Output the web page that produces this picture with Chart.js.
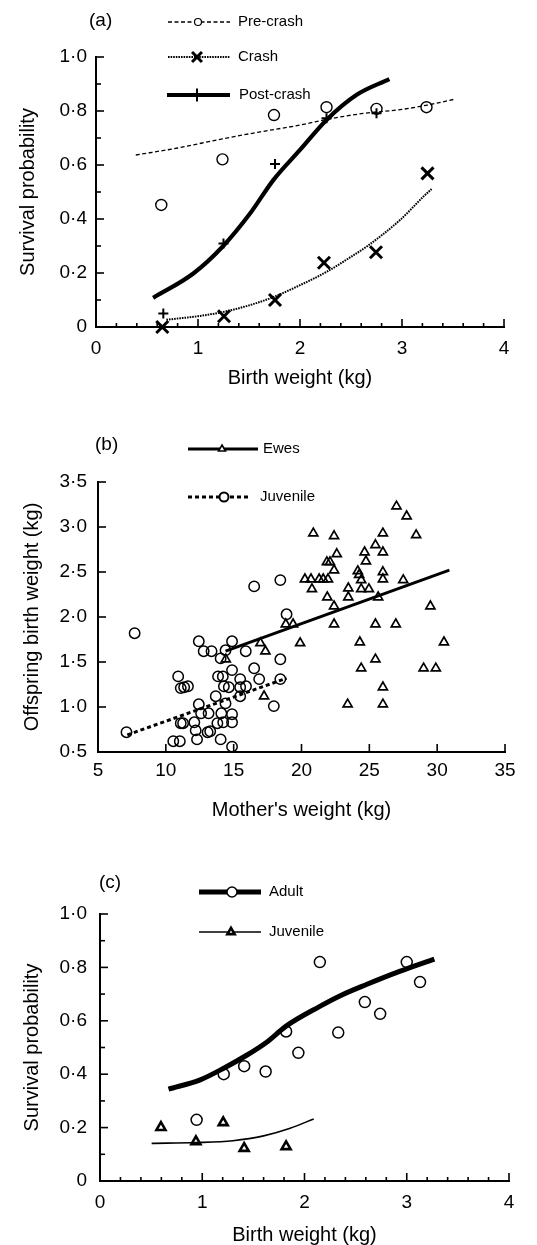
<!DOCTYPE html>
<html lang="en">
<head>
<meta charset="UTF-8">
<title>Survival probability and birth weight</title>
<style>
  body { margin:0; padding:0; background:#fff; }
  .panel { position:absolute; left:0; width:537px; }
  canvas { display:block; }
</style>
</head>
<body>
<div class="panel" style="top:0"><canvas id="chart-a" width="537" height="410"></canvas></div>
<div class="panel" style="top:410px"><canvas id="chart-b" width="537" height="420"></canvas></div>
<div class="panel" style="top:830px"><canvas id="chart-c" width="537" height="415"></canvas></div>

<script src="https://cdn.jsdelivr.net/npm/chart.js"></script>
<script>
// ---- panel (a): survival vs birth weight, three periods ----
const preX   = [0.64, 1.24, 1.745, 2.26, 2.75, 3.24];
const preY   = [0.452, 0.621, 0.785, 0.814, 0.808, 0.814];
const crashX = [0.65, 1.255, 1.755, 2.235, 2.745, 3.25];
const crashY = [0, 0.04, 0.10, 0.238, 0.277, 0.569];
const postX  = [0.66, 1.25, 1.755, 2.26, 2.75];
const postY  = [0.05, 0.309, 0.604, 0.773, 0.792];

const preFitX   = [0.39, 0.8, 1.24, 1.6, 2.0, 2.25, 2.6, 3.0, 3.25, 3.52];
const preFitY   = [0.637, 0.663, 0.697, 0.722, 0.748, 0.768, 0.79, 0.806, 0.822, 0.844];
const crashFitX = [0.69, 1.0, 1.25, 1.5, 1.74, 2.0, 2.26, 2.5, 2.65, 2.98, 3.21, 3.29];
const crashFitY = [0.027, 0.04, 0.056, 0.08, 0.111, 0.155, 0.204, 0.26, 0.297, 0.396, 0.483, 0.511];
const postFitX  = [0.56, 0.954, 1.24, 1.51, 1.74, 2.0, 2.26, 2.556, 2.876];
const postFitY  = [0.108, 0.198, 0.297, 0.42, 0.545, 0.656, 0.767, 0.86, 0.918];

// ---- panel (b): offspring birth weight vs mother's weight ----
const juvMumX = [7.1, 7.7, 10.55, 11.03, 10.91, 11.1, 11.35, 11.63, 11.1, 11.27, 12.1, 12.2, 12.3,
  12.43, 12.43, 12.6, 12.79, 13.15, 13.08, 13.27, 13.37, 13.68, 13.85, 13.8, 14.04, 14.09, 14.2,
  14.28, 14.23, 14.04, 14.4, 14.4, 14.64, 14.88, 14.88, 14.88, 14.88, 14.88, 15.48, 15.48, 15.48,
  15.91, 15.89, 16.51, 16.51, 16.88, 17.96, 18.44, 18.44, 18.44, 18.9];
const juvLambY = [0.72, 1.82, 0.62, 0.62, 1.34, 1.21, 1.22, 1.23, 0.82, 0.82, 0.83, 0.74, 0.64,
  1.73, 1.03, 0.93, 1.62, 0.93, 0.72, 0.73, 1.62, 1.12, 1.34, 0.82, 1.54, 0.93, 1.34,
  1.23, 0.83, 0.64, 1.63, 1.04, 1.22, 1.41, 1.73, 0.92, 0.83, 0.56, 1.31, 1.22, 1.12,
  1.23, 1.62, 1.43, 2.34, 1.31, 1.01, 2.41, 1.53, 1.31, 2.03];
const eweMumX = [27.0, 27.75, 20.87, 22.4, 26.0, 28.45, 25.45, 22.6, 24.65, 26.0, 21.87, 22.1, 24.75,
  24.15, 24.25, 22.4, 26.0, 20.25, 20.7, 21.3, 21.6, 21.95, 26.0, 27.5, 24.4, 20.77, 23.45, 24.4,
  24.97, 21.9, 23.45, 25.65, 22.4, 29.5, 18.84, 19.38, 22.4, 25.45, 26.95, 19.9, 16.97, 17.34,
  24.3, 30.5, 25.45, 24.4, 29.0, 29.9, 26.0, 17.24, 23.4, 26.0, 14.42];
const eweLambY = [3.23, 3.12, 2.93, 2.9, 2.93, 2.91, 2.8, 2.7, 2.72, 2.72, 2.61, 2.61, 2.62,
  2.51, 2.47, 2.52, 2.5, 2.42, 2.42, 2.42, 2.42, 2.42, 2.42, 2.41, 2.41, 2.31, 2.32, 2.31,
  2.31, 2.22, 2.22, 2.22, 2.12, 2.12, 1.92, 1.92, 1.92, 1.92, 1.92, 1.71, 1.71, 1.62,
  1.72, 1.72, 1.53, 1.43, 1.43, 1.43, 1.22, 1.12, 1.03, 1.03, 1.53];
const eweFitX = [14.4, 30.9];
const eweFitY = [1.62, 2.52];
const juvFitX = [7.16, 18.9];
const juvFitY = [0.69, 1.32];

// ---- panel (c): survival vs birth weight, adults and juveniles ----
const adultX = [0.945, 1.21, 1.41, 1.62, 1.82, 1.94, 2.15, 2.33, 2.59, 2.74, 3.0, 3.13];
const adultY = [0.229, 0.40, 0.43, 0.41, 0.56, 0.48, 0.82, 0.556, 0.67, 0.626, 0.82, 0.745];
const adultFitX = [0.67, 0.98, 1.21, 1.43, 1.63, 1.82, 2.15, 2.35, 2.6, 2.93, 3.27];
const adultFitY = [0.344, 0.379, 0.4225, 0.47, 0.52, 0.58, 0.654, 0.694, 0.735, 0.785, 0.831];
const juvCX = [0.596, 0.938, 1.205, 1.41, 1.82];
const juvCY = [0.201, 0.1475, 0.219, 0.1225, 0.129];
const juvCFitX = [0.505, 0.945, 1.3, 1.6, 1.86, 2.09];
const juvCFitY = [0.141, 0.144, 0.151, 0.169, 0.1975, 0.2325];

const FONT = '"Liberation Sans", Arial, Helvetica, sans-serif';
Chart.defaults.font.family = FONT;
Chart.defaults.color = '#000';

const pts = (xs, ys) => xs.map((x, i) => ({ x, y: ys[i] }));
const dot = v => (Math.abs(v) < 1e-9 ? '0' : v.toFixed(1).replace('.', '\u00b7'));
const int = v => String(Math.round(v));

function markerPath(ctx, style, x, y, r) {
  ctx.beginPath();
  if (style === 'circle') {
    ctx.arc(x, y, r, 0, Math.PI * 2);
  } else if (style === 'triangle') {
    for (let k = 0; k < 3; k++) {
      const a = k * 2 * Math.PI / 3;
      const px = x + Math.sin(a) * r, py = y - Math.cos(a) * r;
      k ? ctx.lineTo(px, py) : ctx.moveTo(px, py);
    }
    ctx.closePath();
  } else if (style === 'cross') {
    ctx.moveTo(x - r, y); ctx.lineTo(x + r, y);
    ctx.moveTo(x, y - r); ctx.lineTo(x, y + r);
  } else if (style === 'crossRot') {
    const d = r * Math.SQRT1_2;
    ctx.moveTo(x - d, y - d); ctx.lineTo(x + d, y + d);
    ctx.moveTo(x - d, y + d); ctx.lineTo(x + d, y - d);
  }
}

// inward tick marks on both axes
const innerTicks = {
  id: 'innerTicks',
  afterDraw(chart, args, o) {
    if (!o || !o.x) return;
    const ctx = chart.ctx;
    ctx.save();
    ctx.strokeStyle = '#000';
    ctx.lineWidth = 1.6;
    ['x', 'y'].forEach(id => {
      const s = chart.scales[id], t = o[id];
      const n = Math.round((s.max - s.min) / t.minor);
      for (let i = 1; i <= n; i++) {
        const v = s.min + i * t.minor;
        const q = v / t.major;
        const len = Math.abs(q - Math.round(q)) < 1e-6 ? t.majorLen : t.minorLen;
        const p = s.getPixelForValue(v);
        ctx.beginPath();
        if (id === 'x') {
          const b = chart.chartArea.bottom;
          ctx.moveTo(p, b); ctx.lineTo(p, b - len);
        } else {
          const l = chart.chartArea.left;
          ctx.moveTo(l, p); ctx.lineTo(l + len, p);
        }
        ctx.stroke();
      }
    });
    ctx.restore();
  }
};

// panel tag and line+marker legend
const panelLegend = {
  id: 'panelLegend',
  afterDraw(chart, args, o) {
    if (!o || !o.items) return;
    const ctx = chart.ctx;
    ctx.save();
    ctx.fillStyle = '#000';
    ctx.textBaseline = 'middle';
    ctx.font = '19px ' + FONT;
    ctx.fillText(o.tag, o.tagX, o.tagY);
    ctx.font = '15px ' + FONT;
    o.items.forEach(it => {
      const ln = chart.data.datasets[it.line];
      const pt = chart.data.datasets[it.point];
      ctx.strokeStyle = '#000';
      ctx.lineWidth = ln.borderWidth;
      ctx.setLineDash(ln.borderDash || []);
      ctx.beginPath();
      ctx.moveTo(it.x1, it.y); ctx.lineTo(it.x2, it.y);
      ctx.stroke();
      ctx.setLineDash([]);
      ctx.lineWidth = it.lw || pt.borderWidth;
      markerPath(ctx, pt.pointStyle, it.mx, it.y, it.r);
      if (pt.pointStyle === 'circle' || pt.pointStyle === 'triangle') {
        ctx.fillStyle = '#fff'; ctx.fill(); ctx.fillStyle = '#000';
      }
      ctx.stroke();
      ctx.fillText(ln.label, it.tx, it.y);
    });
    ctx.restore();
  }
};
Chart.register(innerTicks, panelLegend);

function fitLine(label, xs, ys, width, dash) {
  return { type: 'line', label, data: pts(xs, ys), borderColor: '#000', borderWidth: width,
    borderDash: dash, pointRadius: 0, fill: false, cubicInterpolationMode: 'monotone',
    borderCapStyle: 'butt', clip: false };
}
function marks(label, xs, ys, style, r, bw) {
  return { type: 'scatter', label, data: pts(xs, ys), pointStyle: style, pointRadius: r,
    borderColor: '#000', backgroundColor: 'rgba(0,0,0,0)', borderWidth: bw,
    pointBorderWidth: bw, clip: false, showLine: false };
}
function axis(cfg) {
  return {
    type: 'linear', min: cfg.min, max: cfg.max,
    ticks: { stepSize: cfg.step, callback: cfg.fmt, font: { size: 19 }, color: '#000',
      padding: cfg.pad, autoSkip: false, maxRotation: 0 },
    grid: { display: false, drawTicks: false },
    border: { display: true, color: '#000', width: 2 },
    title: { display: true, text: cfg.title, color: '#000', font: { size: 20, lineHeight: 1 },
      padding: cfg.titlePad },
    afterFit: cfg.fit
  };
}
function baseOptions(pad, xAxis, yAxis, ticksCfg, legendCfg) {
  return {
    responsive: false, animation: false, events: [],
    layout: { padding: pad },
    scales: { x: xAxis, y: yAxis },
    plugins: { legend: { display: false }, tooltip: { enabled: false },
      innerTicks: ticksCfg, panelLegend: legendCfg }
  };
}

// (a)
new Chart(document.getElementById('chart-a'), {
  data: { datasets: [
    fitLine('Pre-crash', preFitX, preFitY, 1.3, [4, 2.5]),
    fitLine('Crash', crashFitX, crashFitY, 2, [1.6, 1]),
    fitLine('Post-crash', postFitX, postFitY, 4.2, []),
    marks('Pre-crash', preX, preY, 'circle', 5.5, 1.4),
    marks('Crash', crashX, crashY, 'crossRot', 8.5, 3),
    marks('Post-crash', postX, postY, 'cross', 5, 2)
  ] },
  options: baseOptions({ left: 0, right: 33, top: 57, bottom: 0 },
    axis({ min: 0, max: 4, step: 1, fmt: int, pad: 10, title: 'Birth weight (kg)',
      titlePad: { top: 0, bottom: 22 }, fit: s => { s.height = 83; } }),
    axis({ min: 0, max: 1, step: 0.2, fmt: dot, pad: 9, title: 'Survival probability',
      titlePad: { top: 18, bottom: 0 }, fit: s => { s.width = 96; } }),
    { x: { minor: 0.2, major: 1, minorLen: 4, majorLen: 8 },
      y: { minor: 0.1, major: 0.2, minorLen: 5, majorLen: 8 } },
    { tag: '(a)', tagX: 89, tagY: 21, items: [
      { line: 0, point: 3, x1: 168, x2: 230, mx: 198, y: 22, r: 3.5, lw: 1.2, tx: 238 },
      { line: 1, point: 4, x1: 168, x2: 230, mx: 197, y: 57, r: 7, lw: 3, tx: 238 },
      { line: 2, point: 5, x1: 167, x2: 230, mx: 197, y: 95, r: 6.5, lw: 2, tx: 239 }
    ] })
});

// (b)
new Chart(document.getElementById('chart-b'), {
  data: { datasets: [
    fitLine('Ewes', eweFitX, eweFitY, 3, []),
    fitLine('Juvenile', juvFitX, juvFitY, 3, [4, 3]),
    marks('Ewes', eweMumX, eweLambY, 'triangle', 5.2, 1.7),
    marks('Juvenile', juvMumX, juvLambY, 'circle', 5.2, 1.5)
  ] },
  options: baseOptions({ left: 0, right: 32, top: 72, bottom: 0 },
    axis({ min: 5, max: 35, step: 5, fmt: int, pad: 7, title: "Mother's weight (kg)",
      titlePad: { top: 0, bottom: 10 }, fit: s => { s.height = 78; } }),
    axis({ min: 0.5, max: 3.5, step: 0.5, fmt: dot, pad: 11, title: 'Offspring birth weight (kg)',
      titlePad: { top: 22, bottom: 0 }, fit: s => { s.width = 98; } }),
    { x: { minor: 5, major: 5, minorLen: 8, majorLen: 8 },
      y: { minor: 0.5, major: 0.5, minorLen: 8, majorLen: 8 } },
    { tag: '(b)', tagX: 95, tagY: 35, items: [
      { line: 0, point: 2, x1: 188, x2: 258, mx: 222, y: 39, r: 4, lw: 1.6, tx: 263 },
      { line: 1, point: 3, x1: 188, x2: 250, mx: 224, y: 87, r: 4.5, lw: 2, tx: 260 }
    ] })
});

// (c)
new Chart(document.getElementById('chart-c'), {
  data: { datasets: [
    fitLine('Adult', adultFitX, adultFitY, 5, []),
    fitLine('Juvenile', juvCFitX, juvCFitY, 1.6, []),
    marks('Adult', adultX, adultY, 'circle', 5.5, 1.5),
    marks('Juvenile', juvCX, juvCY, 'triangle', 5.2, 2.6)
  ] },
  options: baseOptions({ left: 0, right: 28, top: 84, bottom: 0 },
    axis({ min: 0, max: 4, step: 1, fmt: int, pad: 10, title: 'Birth weight (kg)',
      titlePad: { top: 0, bottom: 0 }, fit: s => { s.height = 64; } }),
    axis({ min: 0, max: 1, step: 0.2, fmt: dot, pad: 13, title: 'Survival probability',
      titlePad: { top: 22, bottom: 0 }, fit: s => { s.width = 100; } }),
    { x: { minor: 0.2, major: 1, minorLen: 4, majorLen: 8 },
      y: { minor: 0.1, major: 0.2, minorLen: 5, majorLen: 8 } },
    { tag: '(c)', tagX: 99, tagY: 53, items: [
      { line: 0, point: 2, x1: 199, x2: 261, mx: 232, y: 62, r: 5, lw: 1.5, tx: 269 },
      { line: 1, point: 3, x1: 199, x2: 261, mx: 231, y: 102, r: 4.2, lw: 2.6, tx: 269 }
    ] })
});
</script>
</body>
</html>
